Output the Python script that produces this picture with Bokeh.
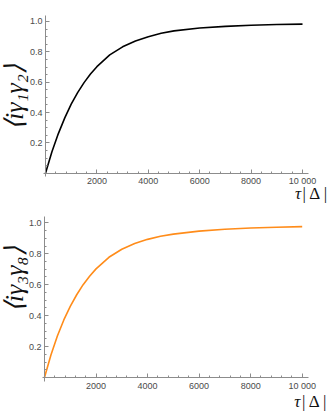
from bokeh.plotting import figure
from bokeh.models import FixedTicker, Label, Range1d, PrintfTickFormatter
from bokeh.layouts import column
from bokeh.embed import file_html
from bokeh.resources import INLINE

# ---- data ----
tau = [0, 250, 500, 750, 1000, 1250, 1500, 1750, 2000, 2500, 3000,
       3500, 4000, 4500, 5000, 6000, 7000, 8000, 9000, 10000]
corr_12 = [0.0, 0.141, 0.261, 0.365, 0.455, 0.531, 0.597, 0.654, 0.702,
           0.780, 0.833, 0.872, 0.900, 0.922, 0.938, 0.957, 0.968, 0.975,
           0.980, 0.983]
corr_38 = [0.0, 0.145, 0.268, 0.372, 0.460, 0.535, 0.600, 0.655, 0.702,
           0.777, 0.829, 0.866, 0.893, 0.913, 0.927, 0.946, 0.958, 0.966,
           0.971, 0.975]

x_major = [2000, 4000, 6000, 8000, 10000]
x_minor = [400, 800, 1200, 1600, 2400, 2800, 3200, 3600, 4400, 4800, 5200,
           5600, 6400, 6800, 7200, 7600, 8400, 8800, 9200, 9600]
y_major = [0.2, 0.4, 0.6, 0.8, 1.0]
y_minor = [0.05, 0.1, 0.15, 0.25, 0.3, 0.35, 0.45, 0.5, 0.55, 0.65, 0.7,
           0.75, 0.85, 0.9, 0.95]
x_labels = {10000: "10 000"}

AXIS_COLOR = "#8c8c8c"
LABEL_COLOR = "#4a4a4a"
TEXT_COLOR = "#111111"


def panel(y, color, ylab, height, xr, yr, ylab_pos, xlab_pos):
    p = figure(width=332, height=height,
               output_backend="svg", toolbar_location=None,
               x_range=Range1d(*xr), y_range=Range1d(*yr),
               min_border_left=0, min_border_right=0,
               min_border_top=0, min_border_bottom=0)
    p.outline_line_color = None
    p.grid.visible = False
    p.background_fill_color = "white"
    for ax in (p.xaxis[0], p.yaxis[0]):
        ax.fixed_location = 0
        ax.axis_line_color = AXIS_COLOR
        ax.major_tick_line_color = AXIS_COLOR
        ax.minor_tick_line_color = AXIS_COLOR
        ax.major_tick_in = 4
        ax.major_tick_out = 0
        ax.minor_tick_in = 2
        ax.minor_tick_out = 0
        ax.major_label_text_font = "Liberation Sans"
        ax.major_label_text_font_size = "9px"
        ax.major_label_text_color = LABEL_COLOR
        ax.major_label_standoff = 3
    p.xaxis[0].bounds = (-80, 10230)
    p.yaxis[0].bounds = (-0.025, 1.04)
    p.xaxis[0].ticker = FixedTicker(ticks=x_major, minor_ticks=x_minor)
    p.xaxis[0].major_label_overrides = x_labels
    p.yaxis[0].ticker = FixedTicker(ticks=y_major, minor_ticks=y_minor)
    p.yaxis[0].formatter = PrintfTickFormatter(format="%.1f")

    p.line(tau, y, line_color=color, line_width=1.6)

    p.add_layout(Label(x=ylab_pos[0], y=ylab_pos[1], text=ylab, angle=1.5708,
                       text_align="center", text_baseline="middle",
                       text_font="Liberation Serif", text_font_style="italic",
                       text_font_size="26px", text_color=TEXT_COLOR))
    p.add_layout(Label(x=xlab_pos[0], y=xlab_pos[1], text="\u03c4",
                       text_align="right", text_baseline="middle",
                       text_font="Liberation Serif", text_font_style="italic",
                       text_font_size="17px", text_color=TEXT_COLOR))
    p.add_layout(Label(x=xlab_pos[0] + 60, y=xlab_pos[1],
                       text="|\u2009\u0394\u2009|",
                       text_align="left", text_baseline="middle",
                       text_font="Liberation Serif", text_font_size="17px",
                       text_color=TEXT_COLOR))
    return p


p1 = panel(corr_12, "#000000", "\u27e8i\u03b3\u2081\u03b3\u2082\u27e9", 204,
           (-1751, 11167), (-0.2063, 1.1384), (-1187, 0.502), (9940, -0.137))
p2 = panel(corr_38, "#FF8C1A", "\u27e8i\u03b3\u2083\u03b3\u2088\u27e9", 208,
           (-1707, 11176), (-0.2262, 1.1183), (-1145, 0.635), (9930, -0.158))

layout = column(p1, p2, spacing=0)
open("out.html", "w").write(file_html(layout, INLINE))
